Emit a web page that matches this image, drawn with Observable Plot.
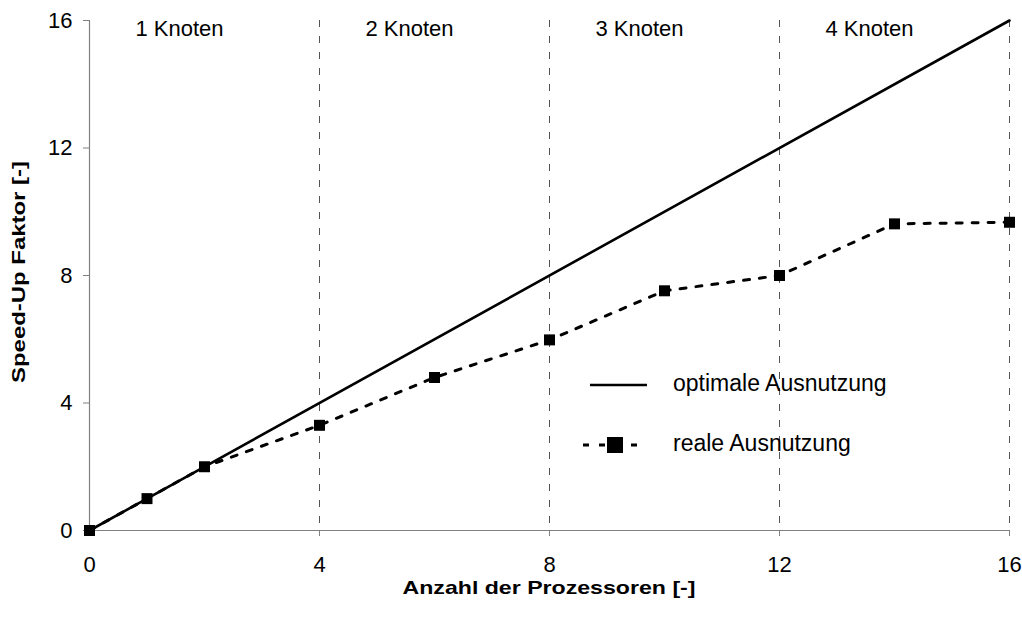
<!DOCTYPE html>
<html>
<head>
<meta charset="utf-8">
<script src="https://cdn.jsdelivr.net/npm/d3@7"></script>
<script src="https://cdn.jsdelivr.net/npm/@observablehq/plot@0.6"></script>
<style>
  html, body { margin: 0; padding: 0; background: #fff; }
  #chart { width: 1022px; height: 619px; }
</style>
</head>
<body>
<div id="chart"></div>
<script>
// ---- data ----
const processors = [0, 1, 2, 4, 6, 8, 10, 12, 14, 16];
const realSpeedup = [0, 1, 2, 3.3, 4.8, 5.98, 7.52, 8.0, 9.62, 9.67];
const optimalX = [0, 16];
const optimalY = [0, 16];
const xTicks = [0, 4, 8, 12, 16];
const yTicks = [0, 4, 8, 12, 16];
const nodeStarts = [0, 4, 8, 12];
const nodeLabels = ["1 Knoten", "2 Knoten", "3 Knoten", "4 Knoten"];
const nodeBoundaries = [4, 8, 12, 16];
const xTitle = "Anzahl der Prozessoren [-]";
const yTitle = "Speed-Up Faktor [-]";
const legendLabels = ["optimale Ausnutzung", "reale Ausnutzung"];

const real = processors.map((p, i) => ({x: p, y: realSpeedup[i]}));
const optimal = optimalX.map((p, i) => ({x: p, y: optimalY[i]}));
const nodes = nodeLabels.map((t, i) => ({x: nodeStarts[i] + 2, label: t}));

const W = 1022, H = 619;
const mL = 89, mR = 13, mT = 20, mB = 89;
const axisGray = "#808080";

const chart = Plot.plot({
  width: W,
  height: H,
  marginLeft: mL,
  marginRight: mR,
  marginTop: mT,
  marginBottom: mB,
  style: {fontFamily: "'Liberation Sans', Arial, sans-serif", fontSize: "22px", background: "#fff", color: "#000", overflow: "visible"},
  x: {domain: [0, 16]},
  y: {domain: [0, 16]},
  marks: [
    Plot.ruleX(nodeBoundaries, {stroke: "#555", strokeWidth: 1, strokeDasharray: "7,9"}),
    Plot.ruleX([0], {stroke: axisGray, strokeWidth: 1.2}),
    Plot.ruleY([0], {stroke: axisGray, strokeWidth: 1.2}),
    Plot.axisY({ticks: yTicks, tickSize: 6, tickPadding: 11, fontSize: 22, stroke: axisGray, label: null, tickFormat: d => String(d)}),
    Plot.axisX({ticks: xTicks, tickSize: 6, tickPadding: 20, fontSize: 22, stroke: axisGray, label: null, tickFormat: d => String(d)}),
    Plot.line(optimal, {x: "x", y: "y", stroke: "#000", strokeWidth: 2.6}),
    Plot.line(real, {x: "x", y: "y", stroke: "#000", strokeWidth: 3, strokeDasharray: "6,10"}),
    Plot.dot(real, {x: "x", y: "y", symbol: "square", r: 6.2, fill: "#000", stroke: "none"}),
    Plot.text(nodes, {x: "x", y: () => 15.75, text: "label", dx: -25, fontSize: 22, fill: "#000"})
  ]
});

document.getElementById("chart").appendChild(chart);

// axis titles and legend (layout annotations)
const svg = d3.select(chart);
const font = "'Liberation Sans', Arial, sans-serif";
svg.append("text")
  .attr("x", (mL + W - mR) / 2).attr("y", 589)
  .attr("text-anchor", "middle").attr("dominant-baseline", "middle")
  .attr("font-family", font).attr("font-size", 19).attr("font-weight", "bold")
  .attr("textLength", 293).attr("lengthAdjust", "spacingAndGlyphs")
  .text(xTitle);
svg.append("text")
  .attr("transform", `translate(20,${(mT + H - mB) / 2 - 3}) rotate(-90)`)
  .attr("text-anchor", "middle").attr("dominant-baseline", "middle")
  .attr("font-family", font).attr("font-size", 18).attr("font-weight", "bold")
  .attr("textLength", 222).attr("lengthAdjust", "spacingAndGlyphs")
  .text(yTitle);

const lg = svg.append("g").attr("text-anchor", "start");
lg.append("line").attr("x1", 590).attr("x2", 647).attr("y1", 385).attr("y2", 385)
  .attr("stroke", "#000").attr("stroke-width", 2.6);
lg.append("text").attr("x", 673).attr("y", 385).attr("dominant-baseline", "middle")
  .attr("text-anchor", "start")
  .attr("font-family", font).attr("font-size", 23).text(legendLabels[0]);
lg.append("line").attr("x1", 583).attr("x2", 640).attr("y1", 445).attr("y2", 445)
  .attr("stroke", "#000").attr("stroke-width", 3).attr("stroke-dasharray", "6,10");
lg.append("rect").attr("x", 607).attr("y", 437).attr("width", 16).attr("height", 16).attr("fill", "#000");
lg.append("text").attr("x", 673).attr("y", 445).attr("dominant-baseline", "middle")
  .attr("text-anchor", "start")
  .attr("font-family", font).attr("font-size", 23).text(legendLabels[1]);
</script>
</body>
</html>
